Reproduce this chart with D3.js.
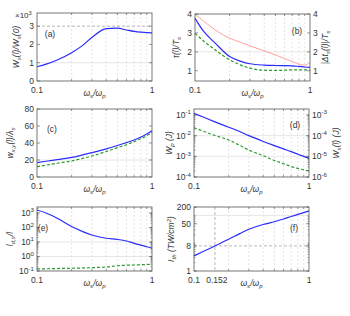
<!DOCTYPE html>
<html>
<head>
<meta charset="utf-8">
<script src="https://cdn.jsdelivr.net/npm/d3@7"></script>
<style>
  body { margin: 0; background: #fff; }
  svg { display: block; }
  text { font-family: "Liberation Sans", Arial, sans-serif; fill: #333; }
</style>
</head>
<body>
<div id="chart"></div>
<script>
// frequency ratio ws/wp sampled on the x axis
const ratio = [0.1, 0.12, 0.15, 0.2, 0.25, 0.3, 0.4, 0.5, 0.6, 0.7, 0.8, 0.9, 1.0];

// (a) Ws(l)/Ws(0)
const gain = [780, 920, 1150, 1550, 1950, 2380, 2870, 2890, 2790, 2710, 2670, 2650, 2630];
// (b) tau(l)/Ts, second tau, |dt|/Ts
const tauBlue = [3.77, 3.05, 2.46, 1.75, 1.5, 1.37, 1.3, 1.28, 1.27, 1.26, 1.23, 1.2, 1.18];
const tauGreen = [2.98, 2.55, 2.1, 1.58, 1.3, 1.14, 1.03, 1.02, 1.03, 1.05, 1.05, 1.05, 1.04];
const delay = [4.0, 3.6, 3.16, 2.72, 2.5, 2.32, 2.05, 1.84, 1.65, 1.49, 1.35, 1.3, 1.45];
// (c) w_x,y(l)/lambda_s
const widthBlue = [17, 18.5, 20.5, 23, 26, 28.6, 33, 37, 40.5, 43.5, 47, 50.5, 54.5];
const widthGreen = [12.2, 14, 16.2, 18.8, 22, 24.7, 30, 34.5, 38, 41.6, 45, 48.5, 52.5];
// (d) Wp (J) and Ws(l) (J)
const wp = [0.12, 0.0794, 0.0479, 0.0257, 0.0158, 0.01, 0.00525, 0.00331, 0.00229, 0.0017, 0.00126, 0.001, 0.000794];
const ws = [2.45e-4, 1.66e-4, 1.05e-4, 6.2e-5, 3.4e-5, 2.0e-5, 1.07e-5, 6.3e-6, 4.4e-6, 3.2e-6, 2.6e-6, 2.2e-6, 2.0e-6];
// (e) l_d,s / l
const ldBlue = [1600, 1000, 430, 115, 52, 30, 18, 15, 11.7, 8.1, 6.0, 4.7, 3.7];
const ldGreen = [0.138, 0.142, 0.148, 0.155, 0.162, 0.17, 0.19, 0.23, 0.25, 0.26, 0.27, 0.28, 0.29];
// (f) I_th (TW/cm2)
const ith = [3.5, 5.0, 7.8, 13.8, 22, 31.6, 47, 59, 74, 91, 108, 126, 145];

const minorX = [0.2, 0.3, 0.4, 0.5, 0.6, 0.7, 0.8, 0.9];

const BLUE = "#2b2bff", GREEN = "#2e9a2e", RED = "#ff8a8a";

const svg = d3.select("#chart").append("svg").attr("width", 350).attr("height", 316);

const sup = (base, e) => [base, [e, "sup"]];

function rich(sel, parts) {
  let shift = 0;
  parts.forEach(p => {
    const [str, kind] = typeof p === "string" ? [p, null] : p;
    const target = kind === "sub" ? 2.2 : kind === "sup" ? -3.5 : 0;
    const ts = sel.append("tspan").text(str).attr("dy", target - shift);
    if (kind) ts.attr("font-size", "0.72em");
    shift = target;
  });
}

const panels = [
  {
    tag: "(a)", box: [37, 152, 13, 81], tagAt: [50, 37],
    y: d3.scaleLinear().domain([0, 3720]), yTicks: [0, 1000, 2000, 3000], yFmt: d => [String(d / 1000)],
    grid: [1000], dashH: [3000],
    lines: [{ v: gain, c: BLUE }],
    yLabel: [["W"], ["s", "sub"], ["(l)/W"], ["s", "sub"], ["(0)"]], yLabelX: 19
  },
  {
    tag: "(b)", box: [195, 310, 14, 81], tagAt: [297, 34],
    y: d3.scaleLinear().domain([0.46, 4]), yTicks: [1, 2, 3, 4], yFmt: d => [String(d)],
    right: { y: d3.scaleLinear().domain([0.46, 4]), ticks: [1, 2, 3, 4], fmt: d => [String(d)] },
    grid: [2],
    lines: [{ v: delay, c: RED, w: 0.8 }, { v: tauGreen, c: GREEN, dash: "3,2" }, { v: tauBlue, c: BLUE }],
    yLabel: [["τ(l)/T"], ["s", "sub"]], yLabelX: 179,
    rLabel: [["|Δt"], ["s", "sub"], ["(l)|/T"], ["s", "sub"]], rLabelX: 328
  },
  {
    tag: "(c)", box: [37, 152, 109, 177], tagAt: [52, 132],
    y: d3.scaleLinear().domain([0, 80]), yTicks: [0, 20, 40, 60, 80], yFmt: d => [String(d)],
    grid: [20],
    lines: [{ v: widthGreen, c: GREEN, dash: "3,2" }, { v: widthBlue, c: BLUE }],
    yLabel: [["w"], ["x,y", "sub"], ["(l)/λ"], ["s", "sub"]], yLabelX: 13
  },
  {
    tag: "(d)", box: [194, 309, 109, 177], tagAt: [295, 128],
    y: d3.scaleLog().domain([1e-4, 0.195]), yTicks: [1e-4, 1e-3, 1e-2, 1e-1],
    yFmt: d => sup("10", String(Math.round(Math.log10(d)))), logMinor: true,
    right: { y: d3.scaleLog().domain([1e-6, 0.00195]), ticks: [1e-6, 1e-5, 1e-4, 1e-3],
             fmt: d => sup("10", String(Math.round(Math.log10(d)))), logMinor: true },
    grid: [1e-2, 1e-3],
    lines: [{ v: ws, c: GREEN, dash: "3,2", right: true }, { v: wp, c: BLUE }],
    yLabel: [["W"], ["p", "sub"], ["  (J)"]], yLabelX: 172,
    rLabel: [["W"], ["s", "sub"], ["(l)  (J)"]], rLabelX: 339
  },
  {
    tag: "(e)", box: [37, 152, 207, 271], tagAt: [43, 231],
    y: d3.scaleLog().domain([0.1, 2570]), yTicks: [0.1, 1, 10, 100, 1000],
    yFmt: d => sup("10", String(Math.round(Math.log10(d)))), logMinor: true,
    grid: [10, 1],
    lines: [{ v: ldGreen, c: GREEN, dash: "3,2" }, { v: ldBlue, c: BLUE }],
    yLabel: [["l"], ["d,s", "sub"], ["/l"]], yLabelX: 13
  },
  {
    tag: "(f)", box: [194, 309, 207, 271], tagAt: [294, 231],
    y: d3.scaleLog().domain([1, 200]), yTicks: [1, 8, 50, 200], yFmt: d => [String(d)], logMinor: true,
    grid: [100], dashH: [8], dashV: [0.152], xTicks: [0.1, 0.152, 1],
    lines: [{ v: ith, c: BLUE }],
    yLabel: [["I"], ["th", "sub"], ["  (TW/cm"], ["2", "sup"], [")"]], yLabelX: 174
  }
];

function logMinors(domain) {
  const out = [];
  const lo = Math.floor(Math.log10(domain[0])), hi = Math.ceil(Math.log10(domain[1]));
  for (let e = lo; e <= hi; e++) {
    for (let k = 1; k <= 9; k++) {
      const v = k * Math.pow(10, e);
      if (v >= domain[0] && v <= domain[1]) out.push(v);
    }
  }
  return out;
}

panels.forEach(p => {
  const [x0, x1, y0, y1] = p.box;
  const x = d3.scaleLog().domain([0.1, 1]).range([x0, x1]);
  const y = p.y.range([y1, y0]);
  if (p.right) p.right.y.range([y1, y0]);
  const g = svg.append("g");

  // grid
  g.selectAll(".vg").data(minorX).enter().append("line")
    .attr("x1", d => x(d)).attr("x2", d => x(d)).attr("y1", y0).attr("y2", y1)
    .attr("stroke", "#d4d4d4").attr("stroke-width", 0.6).attr("stroke-dasharray", "2,2");
  g.selectAll(".hg").data(p.grid || []).enter().append("line")
    .attr("x1", x0).attr("x2", x1).attr("y1", d => y(d)).attr("y2", d => y(d))
    .attr("stroke", "#e0e0e0").attr("stroke-width", 0.8);
  g.selectAll(".hd").data(p.dashH || []).enter().append("line")
    .attr("x1", x0).attr("x2", x1).attr("y1", d => y(d)).attr("y2", d => y(d))
    .attr("stroke", "#9a9a9a").attr("stroke-width", 0.7).attr("stroke-dasharray", "3,2");
  g.selectAll(".vd").data(p.dashV || []).enter().append("line")
    .attr("x1", d => x(d)).attr("x2", d => x(d)).attr("y1", y0).attr("y2", y1)
    .attr("stroke", "#9a9a9a").attr("stroke-width", 0.7).attr("stroke-dasharray", "3,2");

  // curves
  p.lines.forEach(s => {
    const ys = s.right ? p.right.y : y;
    const line = d3.line().x((d, i) => x(ratio[i])).y(d => ys(d)).curve(d3.curveMonotoneX);
    g.append("path").attr("d", line(s.v)).attr("fill", "none")
      .attr("stroke", s.c).attr("stroke-width", s.w || 1.2)
      .attr("stroke-dasharray", s.dash || null);
  });

  // box
  g.append("rect").attr("x", x0).attr("y", y0).attr("width", x1 - x0).attr("height", y1 - y0)
    .attr("fill", "none").attr("stroke", "#555").attr("stroke-width", 0.8);

  // x ticks
  minorX.forEach(v => {
    [[y1, y1 - 2], [y0, y0 + 2]].forEach(([a, b]) =>
      g.append("line").attr("x1", x(v)).attr("x2", x(v)).attr("y1", a).attr("y2", b)
        .attr("stroke", "#555").attr("stroke-width", 0.6));
  });
  (p.xTicks || [0.1, 1]).forEach(v => {
    g.append("text").attr("x", x(v) + (v === 0.152 ? 2 : 0)).attr("y", y1 + 11.5).attr("text-anchor", "middle")
      .attr("font-size", 8.5).text(String(v));
  });
  const xt = g.append("text").attr("x", (x0 + x1) / 2).attr("y", y1 + 15).attr("text-anchor", "middle")
    .attr("font-size", 8.5).attr("font-family", "Liberation Serif").attr("font-style", "italic");
  rich(xt, [["ω"], ["s", "sub"], ["/ω"], ["p", "sub"]]);

  // y ticks left
  const tickLen = 3;
  if (p.logMinor) {
    logMinors(y.domain()).forEach(v => {
      g.append("line").attr("x1", x0).attr("x2", x0 + 1.5).attr("y1", y(v)).attr("y2", y(v))
        .attr("stroke", "#555").attr("stroke-width", 0.5);
      if (!p.right) g.append("line").attr("x1", x1).attr("x2", x1 - 1.5).attr("y1", y(v)).attr("y2", y(v))
        .attr("stroke", "#555").attr("stroke-width", 0.5);
    });
  }
  p.yTicks.forEach(v => {
    g.append("line").attr("x1", x0).attr("x2", x0 + tickLen).attr("y1", y(v)).attr("y2", y(v))
      .attr("stroke", "#555").attr("stroke-width", 0.6);
    if (!p.right) g.append("line").attr("x1", x1).attr("x2", x1 - tickLen).attr("y1", y(v)).attr("y2", y(v))
      .attr("stroke", "#555").attr("stroke-width", 0.6);
    const t = g.append("text").attr("x", x0 - 3).attr("y", y(v) + 3).attr("text-anchor", "end").attr("font-size", 8.5);
    rich(t, p.yFmt(v));
  });

  // y ticks right
  if (p.right) {
    const r = p.right;
    if (r.logMinor) {
      logMinors(r.y.domain()).forEach(v => {
        g.append("line").attr("x1", x1).attr("x2", x1 - 1.5).attr("y1", r.y(v)).attr("y2", r.y(v))
          .attr("stroke", "#555").attr("stroke-width", 0.5);
      });
    }
    r.ticks.forEach(v => {
      g.append("line").attr("x1", x1).attr("x2", x1 - tickLen).attr("y1", r.y(v)).attr("y2", r.y(v))
        .attr("stroke", "#555").attr("stroke-width", 0.6);
      const t = g.append("text").attr("x", x1 + 3).attr("y", r.y(v) + 3).attr("text-anchor", "start").attr("font-size", 8.5);
      rich(t, r.fmt(v));
    });
  }

  // panel tag
  g.append("text").attr("x", p.tagAt[0]).attr("y", p.tagAt[1]).attr("text-anchor", "middle")
    .attr("font-size", 8.5).text(p.tag);

  // axis titles
  const ym = (y0 + y1) / 2;
  const yl = g.append("text").attr("transform", `translate(${p.yLabelX},${ym}) rotate(-90)`)
    .attr("text-anchor", "middle").attr("font-size", 8.5)
    .attr("font-family", "Liberation Serif").attr("font-style", "italic");
  rich(yl, p.yLabel);
  if (p.rLabel) {
    const rl = g.append("text").attr("transform", `translate(${p.rLabelX},${ym}) rotate(-90)`)
      .attr("text-anchor", "middle").attr("font-size", 8.5)
      .attr("font-family", "Liberation Serif").attr("font-style", "italic");
    rich(rl, p.rLabel);
  }
});

// exponent note for panel (a)
const ex = svg.append("text").attr("x", 15).attr("y", 18).attr("font-size", 8);
rich(ex, [["×10"], ["3", "sup"]]);
</script>
</body>
</html>
